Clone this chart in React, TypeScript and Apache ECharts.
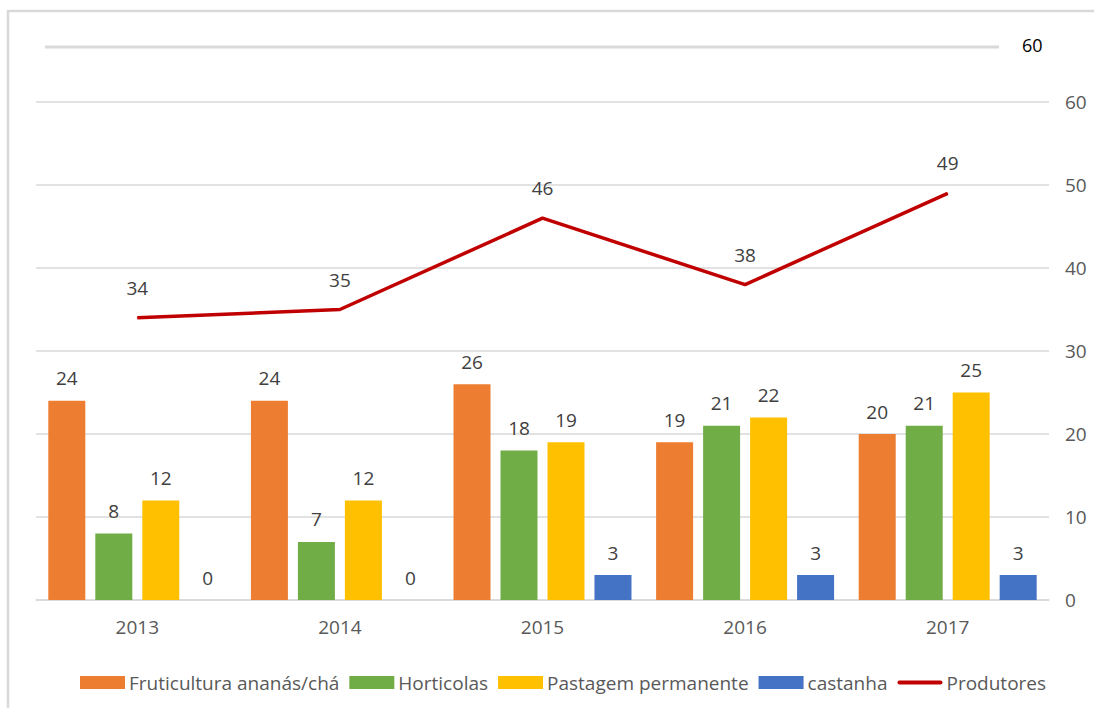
import React, { useEffect, useRef } from "react";
import * as echarts from "echarts";

const years = ["2013", "2014", "2015", "2016", "2017"];
const fruticultura = [24, 24, 26, 19, 20];
const horticolas = [8, 7, 18, 21, 21];
const pastagem = [12, 12, 19, 22, 25];
const castanha = [0, 0, 3, 3, 3];
const produtores = [34, 35, 46, 38, 49];

const FONT = "'Open Sans', sans-serif";
const FS = 19;

export default function App() {
  const ref = useRef<HTMLDivElement>(null);
  useEffect(() => {
    const chart = echarts.init(ref.current!, null, { renderer: "svg" });
    const barLabel = {
      show: true,
      position: "top" as const,
      distance: 13,
      color: "#404040",
      fontSize: FS,
      fontFamily: FONT,
    };
    const bar = (name: string, data: number[], color: string) => ({
      name,
      type: "bar" as const,
      data,
      barWidth: 37,
      barGap: "27%",
      itemStyle: { color },
      label: barLabel,
    });
    chart.setOption({
      animation: false,
      backgroundColor: "#ffffff",
      textStyle: { fontFamily: FONT },
      grid: { left: 36, right: 45, top: 102, bottom: 108 },
      graphic: [
        {
          type: "rect",
          shape: { x: 8, y: 11, width: 1200, height: 800 },
          style: { fill: "none", stroke: "#d9d9d9", lineWidth: 2.5 },
          silent: true,
        },
        {
          type: "line",
          shape: { x1: 45, y1: 47, x2: 999, y2: 47 },
          style: { stroke: "#d9d9d9", lineWidth: 3 },
          silent: true,
        },
        {
          type: "text",
          x: 1022,
          y: 36,
          style: { text: "60", fill: "#000000", fontSize: 18, fontFamily: FONT },
          silent: true,
        },
      ],
      legend: {
        left: 75,
        top: 668,
        itemWidth: 45,
        itemHeight: 13,
        itemGap: 10,
        textStyle: { fontSize: FS, color: "#595959", fontFamily: FONT, padding: [0, 0, 0, -1] },
        data: [
          { name: "Fruticultura ananás/chá", icon: "rect" },
          { name: "Horticolas", icon: "rect" },
          { name: "Pastagem permanente", icon: "rect" },
          { name: "castanha", icon: "rect" },
          {
            name: "Produtores",
            icon: "path://M2,0 L43,0 A2,2 0 0 1 43,4 L2,4 A2,2 0 0 1 2,0 Z",
          },
        ],
      },
      xAxis: {
        type: "category",
        data: years,
        axisTick: { show: false },
        axisLine: { lineStyle: { color: "#d9d9d9", width: 1.5 } },
        axisLabel: { color: "#595959", fontSize: FS, margin: 17, fontFamily: FONT },
      },
      yAxis: {
        type: "value",
        position: "right",
        min: 0,
        max: 60,
        interval: 10,
        axisLine: { show: false },
        axisTick: { show: false },
        splitLine: { lineStyle: { color: "#d9d9d9", width: 1.5 } },
        axisLabel: { color: "#595959", fontSize: FS, margin: 16, fontFamily: FONT },
      },
      series: [
        bar("Fruticultura ananás/chá", fruticultura, "#ED7D31"),
        bar("Horticolas", horticolas, "#70AD47"),
        bar("Pastagem permanente", pastagem, "#FFC000"),
        bar("castanha", castanha, "#4472C4"),
        {
          name: "Produtores",
          type: "line",
          data: produtores,
          symbol: "circle",
          symbolSize: 1,
          showSymbol: true,
          lineStyle: { color: "#C00000", width: 3.5 },
          itemStyle: { color: "#C00000" },
          label: {
            show: true,
            position: "top",
            distance: 20,
            color: "#404040",
            fontSize: FS,
            fontFamily: FONT,
          },
        },
      ],
    });
    return () => chart.dispose();
  }, []);
  return (
    <div
      ref={ref}
      style={{ position: "absolute", left: 0, top: 0, width: 1094, height: 708 }}
    />
  );
}
